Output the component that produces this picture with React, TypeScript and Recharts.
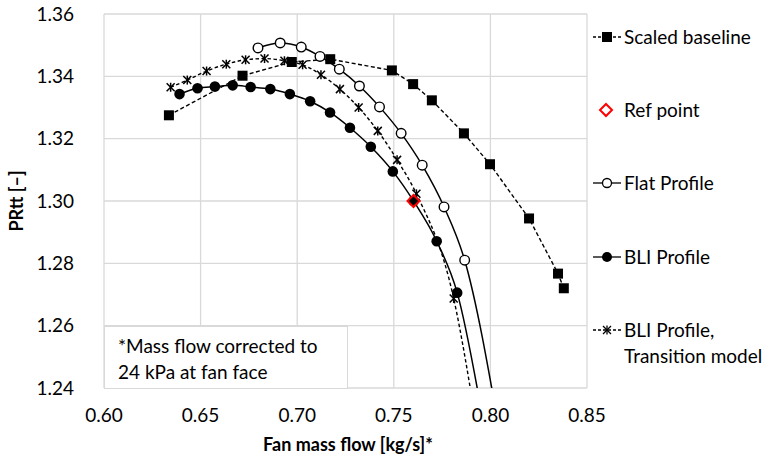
import React from 'react';
import { ComposedChart, Line, XAxis, YAxis, CartesianGrid } from 'recharts';

// corrected fan mass flow [kg/s] and total pressure ratio for each run
const baselineFlow = [0.6336, 0.6717, 0.6972, 0.7171, 0.749, 0.76, 0.7697, 0.7863, 0.7998, 0.82, 0.835, 0.838];
const baselinePR = [1.3275, 1.3402, 1.3446, 1.3455, 1.3419, 1.3375, 1.3323, 1.3217, 1.3118, 1.2944, 1.2767, 1.272];

const flatFlow = [0.6797, 0.6912, 0.7021, 0.7118, 0.7218, 0.7322, 0.7426, 0.7538, 0.7647, 0.776, 0.7867, 0.805];
const flatPR = [1.3491, 1.3507, 1.3494, 1.3464, 1.3423, 1.3369, 1.3302, 1.3217, 1.3115, 1.2981, 1.281, 1.225];

const bliFlow = [0.6391, 0.6484, 0.6574, 0.6666, 0.6759, 0.6861, 0.6962, 0.7067, 0.717, 0.7273, 0.7381, 0.7495, 0.7602, 0.7722, 0.7828, 0.7975];
const bliPR = [1.3343, 1.3362, 1.3367, 1.3371, 1.3366, 1.3359, 1.3343, 1.332, 1.3284, 1.3235, 1.3174, 1.3095, 1.3, 1.2871, 1.2706, 1.225];

const transFlow = [0.6345, 0.6431, 0.6531, 0.6633, 0.6733, 0.6831, 0.6934, 0.7028, 0.7123, 0.7221, 0.7318, 0.7417, 0.7517, 0.7617, 0.781, 0.7935];
const transPR = [1.3365, 1.3388, 1.3417, 1.3439, 1.3453, 1.3457, 1.345, 1.3437, 1.3405, 1.3359, 1.33, 1.3225, 1.3132, 1.3023, 1.2687, 1.225];

const refFlow = [0.7602];
const refPR = [1.3];

const xTicks = [0.6, 0.65, 0.7, 0.75, 0.8, 0.85];
const yTicks = [1.24, 1.26, 1.28, 1.3, 1.32, 1.34, 1.36];

const legendLabels = ['Scaled baseline', 'Ref point', 'Flat Profile', 'BLI Profile', 'BLI Profile,\nTransition model'];

const FONT = 'Lato, "Open Sans", sans-serif';
const GRID = '#d9d9d9';

const toPoints = (xs: number[], ys: number[]) => xs.map((x, i) => ({ x, y: ys[i] }));

const baseline = toPoints(baselineFlow, baselinePR);
const flat = toPoints(flatFlow, flatPR);
const bli = toPoints(bliFlow, bliPR);
const trans = toPoints(transFlow, transPR);
const refPoint = toPoints(refFlow, refPR);

type DotProps = { cx?: number; cy?: number; index?: number };

const SquareDot = ({ cx = 0, cy = 0 }: DotProps) => <rect x={cx - 5} y={cy - 5} width={10} height={10} fill="#000" />;
const OpenDot = ({ cx = 0, cy = 0 }: DotProps) => <circle cx={cx} cy={cy} r={4.8} fill="#fff" stroke="#000" strokeWidth={1.4} />;
const FilledDot = ({ cx = 0, cy = 0 }: DotProps) => <circle cx={cx} cy={cy} r={5.3} fill="#000" />;
const StarDot = ({ cx = 0, cy = 0 }: DotProps) => (
  <g stroke="#000" strokeWidth={1.5}>
    <line x1={cx - 4} y1={cy - 4} x2={cx + 4} y2={cy + 4} />
    <line x1={cx - 4} y1={cy + 4} x2={cx + 4} y2={cy - 4} />
    <line x1={cx} y1={cy - 4.5} x2={cx} y2={cy + 4.5} />
  </g>
);
const DiamondDot = ({ cx = 0, cy = 0 }: DotProps) => (
  <polygon points={`${cx},${cy - 6} ${cx + 6},${cy} ${cx},${cy + 6} ${cx - 6},${cy}`} fill="none" stroke="#ff0000" strokeWidth={2} />
);

const dotFn = (Comp: React.FC<DotProps>) => (p: any) => <Comp key={`d-${p.index}`} cx={p.cx} cy={p.cy} />;

const LegendSymbol = ({ kind }: { kind: number }) => {
  const line = (dash?: string) => <line x1={1} y1={8} x2={29} y2={8} stroke="#000" strokeWidth={1.3} strokeDasharray={dash} />;
  return (
    <svg width={30} height={16} style={{ display: 'block' }}>
      {kind === 0 && (<>{line('3 2')}<rect x={10} y={3} width={10} height={10} fill="#000" /></>)}
      {kind === 1 && <polygon points="14,2 20,8 14,14 8,8" fill="none" stroke="#ff0000" strokeWidth={2} />}
      {kind === 2 && (<>{line()}<circle cx={15} cy={8} r={4.5} fill="#fff" stroke="#000" strokeWidth={1.3} /></>)}
      {kind === 3 && (<>{line()}<circle cx={15} cy={8} r={5} fill="#000" /></>)}
      {kind === 4 && (
        <>
          {line('3 2')}
          <g stroke="#000" strokeWidth={1.3}>
            <line x1={11} y1={4} x2={19} y2={12} />
            <line x1={11} y1={12} x2={19} y2={4} />
            <line x1={15} y1={3.5} x2={15} y2={12.5} />
          </g>
        </>
      )}
    </svg>
  );
};

const legendTops = [37, 110, 183, 257, 330];

export default function App() {
  return (
    <div style={{ position: 'absolute', left: 0, top: 0, width: 771, height: 458, background: '#fff', fontFamily: FONT }}>
      <ComposedChart width={771} height={458} margin={{ top: 14, right: 184, bottom: 0, left: 0 }}>
        <CartesianGrid stroke={GRID} strokeWidth={1.3} />
        <XAxis
          type="number"
          dataKey="x"
          domain={[0.6, 0.85]}
          ticks={xTicks}
          allowDataOverflow
          height={70}
          axisLine={false}
          tickLine={false}
          tickSize={0}
          tickMargin={21}
          tickFormatter={(v: number) => v.toFixed(2)}
          tick={{ fill: '#000', fontSize: 19, fontFamily: FONT }}
          label={{
            content: () => (
              <text x={348} y={451} textAnchor="middle" fontSize={18} fontWeight="bold" fontFamily={FONT} fill="#000">
                Fan mass flow [kg/s]*
              </text>
            ),
          }}
        />
        <YAxis
          type="number"
          dataKey="y"
          domain={[1.24, 1.36]}
          ticks={yTicks}
          allowDataOverflow
          width={104}
          axisLine={false}
          tickLine={false}
          tickSize={0}
          tickMargin={30}
          tickFormatter={(v: number) => v.toFixed(2)}
          tick={{ fill: '#000', fontSize: 19, fontFamily: FONT }}
          label={{
            content: () => (
              <text x={16} y={201} transform="rotate(-90 16 201)" textAnchor="middle" dominantBaseline="central" fontSize={18} fontWeight="bold" fontFamily={FONT} fill="#000">
                PRtt [–]
              </text>
            ),
          }}
        />
        <Line data={baseline} dataKey="y" type="linear" stroke="#000" strokeWidth={1.4} strokeDasharray="4 2.5" dot={dotFn(SquareDot)} activeDot={false} isAnimationActive={false} />
        <Line data={flat} dataKey="y" type="monotone" stroke="#000" strokeWidth={1.5} dot={dotFn(OpenDot)} activeDot={false} isAnimationActive={false} />
        <Line data={bli} dataKey="y" type="monotone" stroke="#000" strokeWidth={1.5} dot={dotFn(FilledDot)} activeDot={false} isAnimationActive={false} />
        <Line data={trans} dataKey="y" type="monotone" stroke="#000" strokeWidth={1.4} strokeDasharray="3.5 2.5" dot={dotFn(StarDot)} activeDot={false} isAnimationActive={false} />
        <Line data={refPoint} dataKey="y" stroke="none" dot={dotFn(DiamondDot)} activeDot={false} isAnimationActive={false} />
      </ComposedChart>

      {/* note box in the lower left corner of the plot */}
      <div
        style={{
          position: 'absolute',
          left: 104,
          top: 326,
          width: 244,
          height: 63,
          boxSizing: 'border-box',
          background: '#fff',
          border: `1px solid ${GRID}`,
          padding: '6px 0 0 13px',
          fontSize: 19,
          lineHeight: '26px',
          color: '#000',
        }}
      >
        *Mass flow corrected to
        <br />
        24 kPa at fan face
      </div>

      {legendLabels.map((label, i) => (
        <div key={label} style={{ position: 'absolute', left: 592, top: legendTops[i] - 13, display: 'flex', alignItems: 'flex-start' }}>
          <div style={{ marginTop: 5 }}>
            <LegendSymbol kind={i} />
          </div>
          <div style={{ marginLeft: 2, fontSize: 19, lineHeight: '26px', color: '#000', whiteSpace: 'pre' }}>{label}</div>
        </div>
      ))}
    </div>
  );
}
